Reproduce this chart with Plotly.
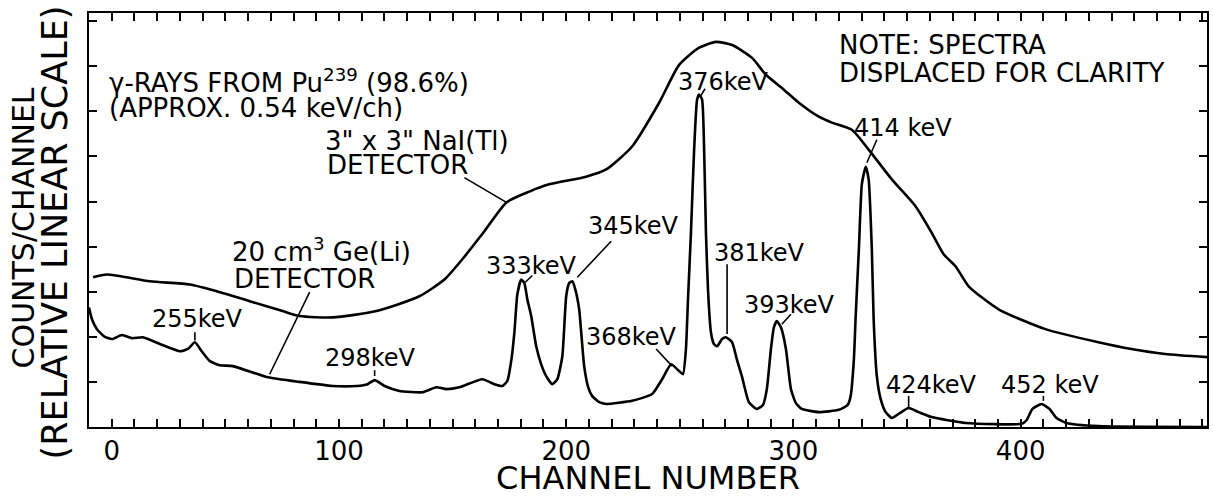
import plotly.graph_objects as go

# ---------------- data (channel number, relative counts) ----------------
nai_ch = [-8.2, -2.1, 16.8, 34.4, 46.2, 60.7, 75.2, 82.7, 97.2, 116.5,
          135.4, 146.4, 154.3, 164.0, 173.7, 183.8, 192.5, 208.8, 217.6, 229.0,
          240.9, 249.7, 258.5, 265.9, 273.0, 281.7, 287.9, 295.8, 302.4, 311.2,
          316.9, 325.7, 333.1, 343.3, 353.8, 360.8, 366.1, 371.4, 377.1, 390.3,
          410.9, 434.2, 448.7, 463.6, 482.0]
nai_counts = [3.32, 3.38, 3.23, 3.16, 3.01, 2.79, 2.57, 2.46, 2.43, 2.57,
              2.90, 3.27, 3.72, 4.34, 4.98, 5.22, 5.38, 5.55, 5.71, 6.22,
              7.19, 8.03, 8.41, 8.54, 8.47, 8.19, 7.81, 7.48, 7.19, 6.88,
              6.75, 6.59, 6.15, 5.49, 4.89, 4.31, 3.83, 3.56, 3.12, 2.61,
              2.17, 1.88, 1.73, 1.62, 1.55]

ge_ch = [-10.0, -8.7, -6.5, -3.4, 0.1, 4.5, 8.9, 13.7, 21.2, 30.0,
         33.5, 36.6, 39.6, 43.2, 47.6, 53.3, 68.2, 82.7, 97.2, 107.8,
         112.6, 115.7, 120.1, 126.6, 136.7, 142.9, 147.3, 153.0, 163.1, 168.4,
         171.9, 174.1, 175.9, 177.2, 178.5, 180.2, 181.6, 182.9, 184.6, 186.8,
         189.0, 191.2, 193.9, 196.1, 198.3, 200.0, 201.3, 202.7, 204.0, 205.7,
         207.9, 209.7, 211.4, 214.5, 217.6, 229.0, 237.8, 242.2, 246.2, 249.7,
         251.4, 252.7, 253.6, 254.9, 256.3, 257.6, 258.5, 259.8, 260.7, 261.5,
         262.4, 263.7, 265.0, 266.4, 268.6, 270.3, 273.0, 275.1, 277.3, 280.4,
         283.9, 286.6, 288.3, 290.1, 291.4, 292.7, 294.5, 296.7, 298.9, 301.1,
         303.7, 311.2, 320.0, 323.9, 325.2, 326.6, 327.4, 328.8, 330.1, 331.8,
         333.1, 334.5, 335.3, 336.7, 338.4, 340.6, 343.3, 346.3, 350.7, 355.1,
         360.8, 375.8, 400.4, 402.6, 405.2, 409.2, 412.7, 415.8, 420.1, 434.2,
         482.0]
ge_counts = [2.65, 2.39, 2.17, 2.01, 1.95, 2.04, 1.97, 1.99, 1.84, 1.68,
             1.73, 1.88, 1.68, 1.46, 1.37, 1.35, 1.11, 1.00, 0.91, 0.91,
             0.95, 1.04, 0.91, 0.80, 0.77, 0.88, 0.84, 0.88, 1.06, 0.95,
             0.91, 1.02, 1.50, 2.10, 2.94, 3.27, 3.19, 2.83, 2.46, 1.79,
             1.39, 1.13, 0.95, 1.06, 1.57, 2.90, 3.19, 3.23, 3.05, 2.61,
             1.35, 0.88, 0.69, 0.55, 0.51, 0.58, 0.73, 1.06, 1.39, 1.24,
             1.17, 1.73, 2.83, 4.31, 6.15, 7.26, 7.37, 7.26, 6.15, 4.31,
             3.05, 2.10, 1.84, 1.79, 1.95, 1.99, 1.88, 1.50, 1.13, 0.55,
             0.40, 0.49, 0.84, 1.73, 2.21, 2.35, 2.21, 1.73, 0.84, 0.53,
             0.40, 0.33, 0.38, 0.49, 0.69, 1.50, 2.46, 3.94, 5.38, 5.77,
             5.49, 3.94, 2.39, 1.13, 0.62, 0.33, 0.20, 0.29, 0.42, 0.33,
             0.22, 0.09, 0.07, 0.15, 0.40, 0.51, 0.40, 0.20, 0.09, 0.02,
             0.0]

x_tick_labels = ["0", "100", "200", "300", "400"]

# peak labels: text, text-left x, text-centre y, pointer (x0, y0, x1, y1)
peak_labels = [
    ("255keV", 16.8, 2.39, (36.6, 2.10, 36.6, 1.92)),
    ("298keV", 92.8, 1.53, (115.7, 1.26, 115.7, 1.13)),
    ("333keV", 164.0, 3.58, (185.1, 3.36, 182.0, 3.21)),
    ("345keV", 208.8, 4.45, (219.8, 4.12, 204.9, 3.32)),
    ("368keV", 207.9, 1.99, (239.6, 1.73, 246.6, 1.35)),
    ("376keV", 248.3, 7.65, (261.1, 7.50, 258.9, 7.32)),
    ("381keV", 264.2, 3.85, (270.8, 3.61, 270.8, 2.06)),
    ("393keV", 277.3, 2.70, (298.9, 2.50, 294.9, 2.28)),
    ("414 keV", 325.7, 6.64, (336.7, 6.37, 332.3, 5.86)),
    ("424keV", 339.7, 0.93, (350.7, 0.69, 350.7, 0.42)),
    ("452 keV", 390.3, 0.93, (410.0, 0.69, 410.0, 0.58)),
]

note_labels = [
    ("γ-RAYS FROM Pu<sup>239</sup> (98.6%)", -2.1, 7.68),
    ("(APPROX. 0.54 keV/ch)", -2.1, 7.08),
    ("3\" x 3\" NaI(Tl)", 92.8, 6.35),
    ("DETECTOR", 93.7, 5.82),
    ("20 cm<sup>3</sup> Ge(Li)", 52.0, 3.92),
    ("DETECTOR", 52.8, 3.28),
    ("NOTE: SPECTRA", 319.1, 8.47),
    ("DISPLACED FOR CLARITY", 319.1, 7.85),
]
detector_pointers = [(155.2, 5.53, 173.7, 4.98), (87.1, 2.99, 69.5, 1.17)]

# ---------------- figure ----------------
FONT = "DejaVu Sans"
fig = go.Figure()
fig.add_trace(go.Scatter(x=nai_ch, y=nai_counts, mode="lines",
                         line=dict(color="black", width=2.6, shape="spline", smoothing=0.6),
                         hoverinfo="skip", showlegend=False))
fig.add_trace(go.Scatter(x=ge_ch, y=ge_counts, mode="lines",
                         line=dict(color="black", width=2.6, shape="spline", smoothing=0.5),
                         hoverinfo="skip", showlegend=False))

annotations = []
shapes = []
for text, x, y, (x0, y0, x1, y1) in peak_labels:
    annotations.append(dict(x=x, y=y, xref="x", yref="y", text=text, showarrow=False,
                            xanchor="left", yanchor="middle",
                            font=dict(family=FONT, size=24, color="black")))
    shapes.append(dict(type="line", xref="x", yref="y", x0=x0, y0=y0, x1=x1, y1=y1,
                       line=dict(color="black", width=1.6)))
for text, x, y in note_labels:
    annotations.append(dict(x=x, y=y, xref="x", yref="y", text=text, showarrow=False,
                            xanchor="left", yanchor="middle",
                            font=dict(family=FONT, size=26, color="black")))
for (x0, y0, x1, y1) in detector_pointers:
    shapes.append(dict(type="line", xref="x", yref="y", x0=x0, y0=y0, x1=x1, y1=y1,
                       line=dict(color="black", width=1.6)))

# y-axis title as two rotated lines
annotations.append(dict(text="COUNTS/CHANNEL", textangle=-90, showarrow=False,
                        xref="paper", yref="paper", x=-0.0589, y=0.48,
                        xanchor="center", yanchor="middle",
                        font=dict(family=FONT, size=30, color="black")))
annotations.append(dict(text="(RELATIVE LINEAR SCALE)", textangle=-90, showarrow=False,
                        xref="paper", yref="paper", x=-0.0304, y=0.47,
                        xanchor="center", yanchor="middle",
                        font=dict(family=FONT, size=35, color="black")))

major = [int(t) for t in x_tick_labels]

fig.update_layout(
    width=1213, height=497,
    margin=dict(l=89, r=4, t=13, b=69),
    paper_bgcolor="white", plot_bgcolor="white",
    font=dict(family=FONT, color="black"),
    annotations=annotations, shapes=shapes,
    xaxis=dict(range=[-10, 482], tickmode="array", tickvals=major, ticktext=x_tick_labels,
               ticks="inside", ticklen=8, tickwidth=1.5, tickcolor="black",
               minor=dict(tickmode="linear", tick0=0, dtick=10, ticks="inside",
                          ticklen=8, tickwidth=1.5, tickcolor="black", showgrid=False),
               showline=True, linewidth=2, linecolor="black", mirror="allticks",
               showgrid=False, zeroline=False,
               tickfont=dict(family=FONT, size=26, color="black"),
               title=dict(text="CHANNEL NUMBER", font=dict(family=FONT, size=32, color="black"),
                          standoff=4)),
    yaxis=dict(range=[0, 9.18], tickmode="linear", tick0=0, dtick=1,
               showticklabels=False,
               ticks="inside", ticklen=8, tickwidth=1.5, tickcolor="black",
               showline=True, linewidth=2, linecolor="black", mirror="allticks",
               showgrid=False, zeroline=False),
)

fig.write_html("out.html")
